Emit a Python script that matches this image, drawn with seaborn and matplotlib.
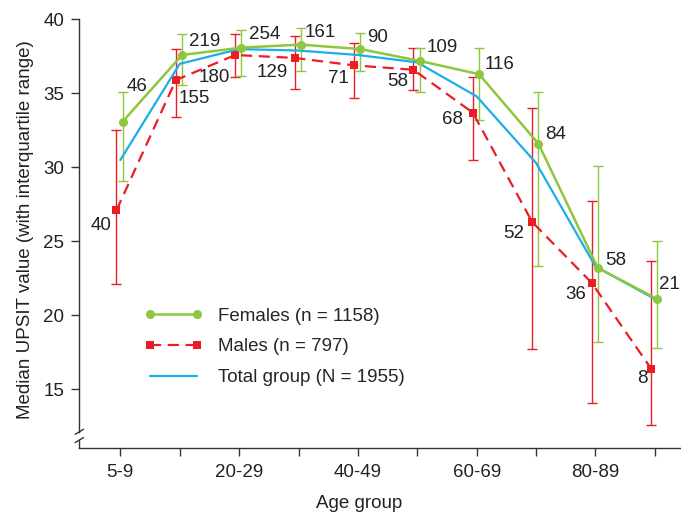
import matplotlib
matplotlib.use("Agg")
import matplotlib.pyplot as plt
import seaborn as sns
import numpy as np
import pandas as pd

# data
age_groups = ['5-9', '10-19', '20-29', '30-39', '40-49', '50-59', '60-69', '70-79', '80-89', '90-99']
female_median = [33.1, 37.6, 38.1, 38.3, 38.0, 37.2, 36.3, 31.6, 23.2, 21.1]
female_q1 = [29.1, 35.6, 36.2, 36.5, 36.5, 35.1, 33.2, 23.3, 18.2, 17.8]
female_q3 = [35.1, 39.0, 39.3, 39.4, 39.1, 38.1, 38.1, 35.1, 30.1, 25.0]
female_n = [46, 219, 254, 161, 90, 109, 116, 84, 58, 21]
male_median = [27.1, 35.9, 37.6, 37.4, 36.9, 36.6, 33.7, 26.3, 22.2, 16.4]
male_q1 = [22.1, 33.4, 36.1, 35.3, 34.7, 35.2, 30.5, 17.7, 14.1, 12.6]
male_q3 = [32.5, 38.0, 39.0, 38.9, 38.4, 38.1, 36.1, 34.0, 27.7, 23.7]
male_n = [40, 155, 180, 129, 71, 58, 68, 52, 36, 8]
total_median = [30.5, 37.0, 38.0, 37.9, 37.6, 37.1, 34.8, 30.3, 23.3, 21.1]

GREEN = '#8DC63F'
RED = '#ED1C24'
BLUE = '#1CAFE6'
DARK = '#333333'
TXT = '#222222'
FS = 13.5

# label offsets (pixels) for the n annotations
female_off = [(14, 35), (23, 13), (23, 13), (19, 12), (17, 12), (23, 13), (21, 10), (17, 9), (18, 7), (12, 14)]
male_off = [(-15, -15), (18, -18), (-21, -23), (-22, -15), (-16, -13), (-16, -12), (-20, -7), (-19, -11), (-16, -12), (-9, -10)]

sns.set_style("ticks")
plt.rcParams['font.family'] = ['Liberation Sans', 'DejaVu Sans']

fig = plt.figure(figsize=(6.81, 5.13), dpi=100)
ax = fig.add_axes([0.1165, 0.126, 0.8835, 0.836])

x = np.arange(len(age_groups))
xf = x + 0.04
xm = x - 0.065

df = pd.DataFrame({'xf': xf, 'xm': xm, 'x': x,
                   'female': female_median, 'male': male_median, 'total': total_median})

# error bars (interquartile range)
ax.errorbar(xm, male_median,
            yerr=[np.array(male_median) - np.array(male_q1), np.array(male_q3) - np.array(male_median)],
            fmt='none', ecolor=RED, elinewidth=1, capsize=3.5, capthick=1, zorder=2)
ax.errorbar(xf, female_median,
            yerr=[np.array(female_median) - np.array(female_q1), np.array(female_q3) - np.array(female_median)],
            fmt='none', ecolor=GREEN, elinewidth=1, capsize=3.5, capthick=1, zorder=2)

sns.lineplot(data=df, x='xm', y='male', ax=ax, color=RED, linewidth=1.6,
             linestyle=(0, (5, 3)), marker='s', markersize=6, markeredgewidth=0,
             label='Males (n = 797)', zorder=3)
sns.lineplot(data=df, x='x', y='total', ax=ax, color=BLUE, linewidth=1.6,
             label='Total group (N = 1955)', zorder=4)
sns.lineplot(data=df, x='xf', y='female', ax=ax, color=GREEN, linewidth=1.8,
             marker='o', markersize=6.5, markeredgewidth=0,
             label='Females (n = 1158)', zorder=5)

for i in range(len(age_groups)):
    ax.annotate(str(female_n[i]), (xf[i], female_median[i]), xytext=female_off[i],
                textcoords='offset pixels', ha='center', va='center', fontsize=FS, color=TXT)
    ax.annotate(str(male_n[i]), (xm[i], male_median[i]), xytext=male_off[i],
                textcoords='offset pixels', ha='center', va='center', fontsize=FS, color=TXT)

handles, labels = ax.get_legend_handles_labels()
order = [2, 0, 1]
ax.legend([handles[i] for i in order], [labels[i] for i in order],
          loc='upper left', bbox_to_anchor=(0.108, 0.328), frameon=False,
          numpoints=2, handlelength=3.1, handletextpad=0.85, labelspacing=0.72,
          borderpad=0, borderaxespad=0, fontsize=FS)

ax.set_xlim(-0.69, 9.44)
ax.set_ylim(11, 40)
ax.set_yticks([15, 20, 25, 30, 35, 40])
ax.set_xticks(x)
ax.set_xticklabels([lab if i % 2 == 0 else '' for i, lab in enumerate(age_groups)])
ax.tick_params(axis='both', length=6, width=1, color=DARK, labelsize=FS, labelcolor=TXT, pad=5)

ax.set_xlabel('Age group', fontsize=FS, color=TXT)
ax.set_ylabel('Median UPSIT value (with interquartile range)', fontsize=FS, color=TXT)
ax.xaxis.set_label_coords(0.465, -0.108)
ax.yaxis.set_label_coords(-0.076, 0.511)

for s in ['top', 'right']:
    ax.spines[s].set_visible(False)
for s in ['left', 'bottom']:
    ax.spines[s].set_color(DARK)
    ax.spines[s].set_linewidth(1)

# axis break on the y axis
ax.spines['left'].set_bounds(12.12, 40)
ax.plot([-0.69, -0.69], [11, 11.56], color=DARK, linewidth=1, clip_on=False, zorder=6)
for yb in [11.56, 12.12]:
    ax.plot([-0.76, -0.62], [yb - 0.17, yb + 0.17], color=DARK, linewidth=1, clip_on=False, zorder=6)

fig.savefig('out.png', dpi=100)
